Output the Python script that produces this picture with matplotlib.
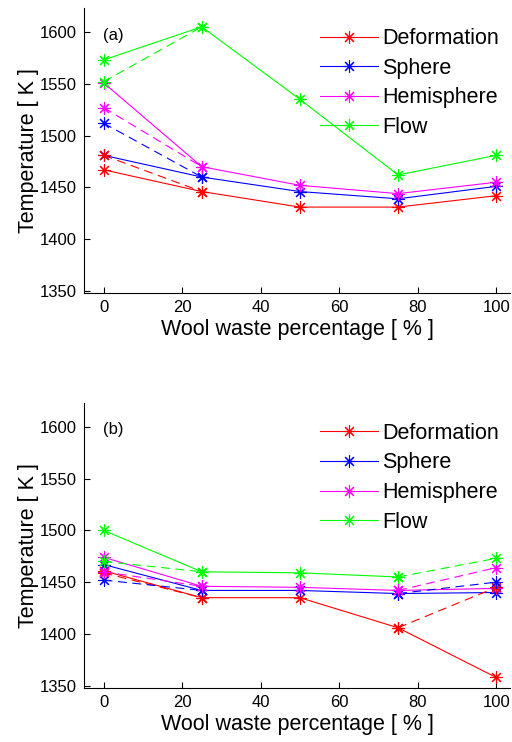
import numpy as np
import matplotlib.pyplot as plt

plt.rcParams['font.family'] = ['Liberation Sans', 'DejaVu Sans']

# wool waste percentage
x = [0, 25, 50, 75, 100]
names = ["Deformation", "Sphere", "Hemisphere", "Flow"]
colors = ["#ff0000", "#0000ff", "#ff00ff", "#00ff00"]
nan = np.nan

# panel (a) - solid and dashed series
a_def = [1467, 1446, 1431, 1431, 1442]
a_sph = [1481, 1460, 1446, 1439, 1451]
a_hem = [1551, 1470, 1452, 1444, 1455]
a_flo = [1573, 1605, 1535, 1462, 1481]
a_def_d = [1481, 1446, nan, nan, nan]
a_sph_d = [1512, 1460, nan, nan, nan]
a_hem_d = [1527, 1470, nan, nan, nan]
a_flo_d = [1552, 1605, nan, nan, nan]

# panel (b)
b_def = [1461, 1435, 1435, 1406, 1358]
b_sph = [1467, 1442, 1442, 1439, 1440]
b_hem = [1474, 1446, 1445, 1442, 1444]
b_flo = [1500, 1460, 1459, 1455, nan]
b_def_d = [1459, 1435, nan, 1406, 1445]
b_sph_d = [1452, 1442, nan, 1439, 1450]
b_hem_d = [1460, 1446, nan, 1442, 1464]
b_flo_d = [1470, 1460, nan, 1455, 1473]

yticks = [1350, 1400, 1450, 1500, 1550, 1600]
xticks = [0, 20, 40, 60, 80, 100]

fig = plt.figure(figsize=(5.12, 7.42), dpi=100)
ax1 = fig.add_axes([0.164, 0.605, 0.832, 0.384])
ax2 = fig.add_axes([0.164, 0.073, 0.832, 0.384])

mk = (8, 2, 0)

def panel(ax, solid, dashed, tag):
    for s, c, n in zip(solid, colors, names):
        ax.plot(x, s, color=c, lw=0.8, marker=mk, ms=9, mew=0.8, label=n)
    for d, c in zip(dashed, colors):
        ax.plot(x, d, color=c, lw=0.8, ls=(0, (8, 5)), marker=mk, ms=9, mew=0.8)
    ax.set_xlim(-5, 103.5)
    ax.set_ylim(1348, 1623)
    ax.set_xticks(xticks)
    ax.set_yticks(yticks)
    ax.spines['top'].set_visible(False)
    ax.spines['right'].set_visible(False)
    ax.tick_params(direction='in', length=4, width=0.8, labelsize=12, pad=5)
    ax.set_xlabel("Wool waste percentage [ % ]", fontsize=15.5, labelpad=3)
    ax.set_ylabel("Temperature [ K ]", fontsize=15.5, labelpad=1)
    ax.text(2.5, 1597, tag, fontsize=12, ha='center', va='center')
    ax.legend(loc='upper right', bbox_to_anchor=(0.975, 0.93), frameon=False,
              fontsize=15.5, handlelength=2.7, handletextpad=0.2,
              labelspacing=0.4, borderaxespad=0, borderpad=0)

panel(ax1, [a_def, a_sph, a_hem, a_flo], [a_def_d, a_sph_d, a_hem_d, a_flo_d], "(a)")
panel(ax2, [b_def, b_sph, b_hem, b_flo], [b_def_d, b_sph_d, b_hem_d, b_flo_d], "(b)")

fig.savefig("out.png", dpi=100)
